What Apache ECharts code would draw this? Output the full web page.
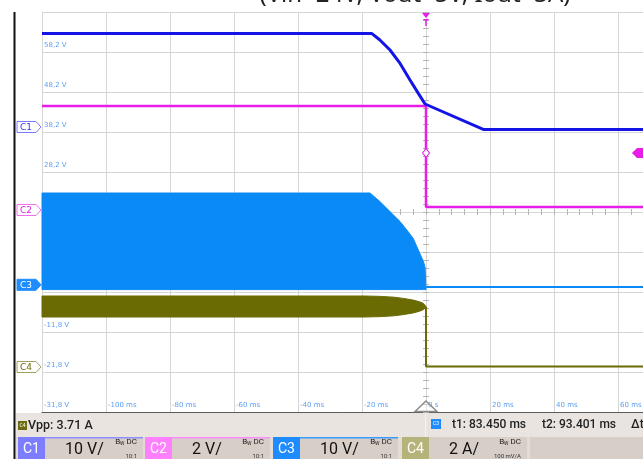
<!DOCTYPE html>
<html>
<head>
<meta charset="utf-8">
<script src="https://cdn.jsdelivr.net/npm/echarts@6/dist/echarts.min.js"></script>
<style>
html, body { margin: 0; padding: 0; background: #fff; }
#main { width: 643px; height: 459px; }
</style>
</head>
<body>
<div id="main"></div>
<script>
// time axis in ms (20 ms/div, 12 div), screen shows -120 .. ~68 ms
var xTickVals = [-120, -100, -80, -60, -40, -20, 0, 20, 40, 60, 80, 100, 120];
var xTickText = ['', '-100 ms', '-80 ms', '-60 ms', '-40 ms', '-20 ms', '0 s', '20 ms', '40 ms', '60 ms', '80 ms', '100 ms', ''];
// vertical grid in divisions (-5 .. 5)
var yTickText = ['-31,8 V', '-21,8 V', '-11,8 V', '-1,8 V', '8,2 V', '18,2 V', '28,2 V', '38,2 V', '48,2 V', '58,2 V', ''];

// C1 input voltage (V)
var tC1 = [-120, -17.0, -14.4, -11.25, -8.1, -5.0, -2.4, -0.3, 0, 17.9, 120];
var vC1 = [23.4, 23.4, 21.75, 19.25, 15.9, 11.75, 8.4, 5.75, 5.5, -0.6, -0.6];

// C2 output voltage (V)
var tC2 = [-120, 0, 0, 120];
var vC2 = [5.2, 5.2, 0.15, 0.15];
var trigLevel = 2.85;

// C3 switch node (V), envelope before shutdown + flat after
var tC3 = [-120, -17.5, -14.4, -11.25, -8.1, -6.0, -4.0, -2.4, -0.8, -0.3, 0];
var c3Top = [22.95, 22.95, 20.8, 18.3, 15.8, 13.7, 11.6, 8.7, 5.8, 4.4, -1.2];
var c3Bot = [-1.2, -1.2, -1.2, -1.2, -1.2, -1.2, -1.2, -1.2, -1.2, -1.2, -1.2];
var tC3after = [0, 120];
var vC3after = [-0.55, -0.55];

// C4 inductor current (A), ripple envelope + flat after
var tC4 = [-120, -19, -14, -10, -7, -4, -2, -0.8, 0];
var c4Top = [3.55, 3.55, 3.53, 3.49, 3.43, 3.345, 3.26, 3.18, 3.02];
var c4Bot = [2.5, 2.5, 2.52, 2.56, 2.62, 2.705, 2.79, 2.87, 2.98];
var tC4after = [0, 0, 120];
var vC4after = [3.0, 0.02, 0.02];

// channel settings: units per div, zero position in div from centre
var chScale = [10, 2, 10, 2];
var chZero = [2.125, 0.05, -1.82, -3.875];
var chColor = ['#1414e6', '#e81ee8', '#0a8af6', '#6b6b04'];

var chart = echarts.init(document.getElementById('main'));

function pts(t, v) { return t.map(function (x, i) { return [x, v[i]]; }); }

var labelColor = '#5c9ff0';
var gridColor = '#d6d6d6';
var tickColor = '#b5b5b5';

function chAxis(i) {
  return {
    type: 'value', show: false,
    min: (-5 - chZero[i]) * chScale[i],
    max: (5 - chZero[i]) * chScale[i],
    axisLine: { onZero: false }
  };
}

function centreX(inside) {
  return {
    type: 'value', min: -120, max: 120, interval: 20,
    axisLine: { show: false, onZero: true, onZeroAxisIndex: 0 },
    axisTick: { show: true, inside: inside, length: 3, lineStyle: { color: tickColor } },
    minorTick: { show: true, splitNumber: 5, length: 3, lineStyle: { color: tickColor } },
    axisLabel: { show: false },
    splitLine: { show: false }
  };
}
function centreY(inside) {
  return {
    type: 'value', min: -5, max: 5, interval: 1,
    axisLine: { show: false, onZero: true, onZeroAxisIndex: 0 },
    axisTick: { show: true, inside: inside, length: 3, lineStyle: { color: tickColor } },
    minorTick: { show: true, splitNumber: 5, length: 3, lineStyle: { color: tickColor } },
    axisLabel: { show: false },
    splitLine: { show: false }
  };
}

// filled envelope (top curve forward, bottom curve back) through the axis scales
function band(name, axis, t, top, bot, color) {
  return {
    name: name, type: 'custom', yAxisIndex: axis, silent: true,
    data: t.map(function (x, i) { return [x, top[i], bot[i]]; }),
    encode: { x: 0, y: [1, 2] },
    renderItem: function (params, api) {
      if (params.dataIndex !== 0) return null;
      var p = [];
      for (var i = 0; i < t.length; i++) p.push(api.coord([t[i], top[i]]));
      for (var j = t.length - 1; j >= 0; j--) p.push(api.coord([t[j], bot[j]]));
      return { type: 'polygon', shape: { points: p }, style: { fill: color, stroke: color, lineWidth: 1 } };
    }
  };
}

var option = {
  animation: false,
  backgroundColor: '#fff',
  grid: { left: 42, top: 12, width: 768, height: 400, outerBoundsMode: 'none', containLabel: false },
  xAxis: [
    {
      type: 'value', min: -120, max: 120, interval: 20, position: 'bottom',
      axisLine: { show: true, onZero: false, lineStyle: { color: '#5a5a5a', width: 1 } },
      axisTick: { show: false },
      axisLabel: {
        inside: true, margin: 3, align: 'left', verticalAlign: 'bottom', padding: [0, 0, 0, 2],
        fontSize: 7, fontFamily: 'DejaVu Sans', color: labelColor,
        formatter: function (v) { var k = xTickVals.indexOf(v); return k < 0 ? '' : xTickText[k]; }
      },
      splitLine: { show: true, lineStyle: { color: gridColor, width: 1 } }
    },
    centreX(true),
    centreX(false)
  ],
  yAxis: [
    {
      type: 'value', min: -5, max: 5, interval: 1, position: 'left',
      axisLine: { show: true, onZero: false, lineStyle: { color: gridColor } },
      axisTick: { show: false },
      axisLabel: {
        inside: true, margin: 2, align: 'left', verticalAlign: 'bottom', padding: [0, 0, 3, 0],
        fontSize: 7, fontFamily: 'DejaVu Sans', color: labelColor,
        formatter: function (v) { return yTickText[Math.round(v + 5)] || ''; }
      },
      splitLine: { show: true, lineStyle: { color: gridColor, width: 1 } }
    },
    chAxis(0), chAxis(1), chAxis(2), chAxis(3),
    centreY(true),
    centreY(false)
  ],
  series: [
    band('C4 ripple', 4, tC4, c4Top, c4Bot, chColor[3]),
    {
      name: 'C4', type: 'line', yAxisIndex: 4, data: pts(tC4after, vC4after),
      symbol: 'none', lineStyle: { color: chColor[3], width: 2 }
    },
    band('C3 switching', 3, tC3, c3Top, c3Bot, chColor[2]),
    {
      name: 'C3', type: 'line', yAxisIndex: 3, data: pts(tC3after, vC3after),
      symbol: 'none', lineStyle: { color: chColor[2], width: 2 }
    },
    {
      name: 'C2', type: 'line', yAxisIndex: 2, data: pts(tC2, vC2),
      symbol: 'none', lineStyle: { color: chColor[1], width: 2.5 },
      markPoint: {
        symbol: 'diamond', symbolSize: [7, 9], silent: true,
        itemStyle: { color: '#fff', borderColor: chColor[1], borderWidth: 1 },
        label: { show: false },
        data: [{ coord: [0, trigLevel] }]
      }
    },
    {
      name: 'C1', type: 'line', yAxisIndex: 1, data: pts(tC1, vC1),
      symbol: 'none', lineStyle: { color: chColor[0], width: 3 }
    }
  ]
};
chart.setOption(option);

// ---- screen decorations around the plot ----
var x0 = chart.convertToPixel({ xAxisIndex: 0 }, 0);
var zeroY = [1, 2, 3, 4].map(function (i) { return chart.convertToPixel({ yAxisIndex: i }, 0); });
var trigY = chart.convertToPixel({ yAxisIndex: 2 }, trigLevel);

function txt(text, x, y, font, fill, align) {
  return { type: 'text', z: 20, style: { text: text, x: x, y: y, font: font, fill: fill,
    align: align || 'left', textAlign: align || 'left', verticalAlign: 'middle', textVerticalAlign: 'middle' } };
}
function rect(x, y, w, h, fill) {
  return { type: 'rect', z: 15, shape: { x: x, y: y, width: w, height: h }, style: { fill: fill } };
}
function tag(y, name, stroke, fill, tcol) {
  return {
    type: 'group', z: 20, children: [
      { type: 'polygon', shape: { points: [[17, y - 5.5], [36, y - 5.5], [41, y], [36, y + 5.5], [17, y + 5.5]] },
        style: { fill: fill, stroke: stroke, lineWidth: 1 } },
      txt(name, 26, y + 0.5, '9px "DejaVu Sans"', tcol, 'center')
    ]
  };
}
function chBox(x, name, col, setting, bw, top) {
  var g = [
    rect(x, 437, 27, 22, col),
    txt(name, x + 13.5, 449, '14px Roboto', '#fff', 'center'),
    rect(x + 27, 437, 98, 22, '#d7cec8'),
    txt(setting, x + 47, 450, '16px Roboto', '#111', 'left'),
    { type: 'text', z: 20, style: { text: '{a|B}{b|W}{a| DC}', x: x + 119, y: 442, align: 'right', textAlign: 'right',
      verticalAlign: 'middle', textVerticalAlign: 'middle',
      rich: { a: { fontSize: 8, fontFamily: 'Roboto', fill: '#222' }, b: { fontSize: 5, fontFamily: 'Roboto', fill: '#222', padding: [4, 0, 0, 0] } } } },
    txt(bw, x + 119, 456, '6px Roboto', '#333', 'right')
  ];
  if (top) g.push(rect(x + 27, 437, 98, 1.5, top));
  return g;
}

var graphics = [
  txt('(Vin=24V, Vout=5V, Iout=3A)', 415, -4.5, '24px "Noto Sans"', '#222', 'center'),
  rect(0, 0, 16, 459, '#fff'),
  rect(13.5, 12, 2, 447, '#111'),
  tag(zeroY[0], 'C1', '#7a7aff', '#fff', '#3a3ae8'),
  tag(zeroY[1], 'C2', '#f070f0', '#fff', '#e020e0'),
  tag(zeroY[2], 'C3', '#1e8cff', '#1e8cff', '#fff'),
  tag(zeroY[3], 'C4', '#a0a060', '#fff', '#6b6b04'),
  // trigger markers
  { type: 'polygon', z: 20, shape: { points: [[x0 - 4, 13], [x0 + 4, 13], [x0, 18]] }, style: { fill: '#e81ee8' } },
  txt('T', x0, 24, 'bold 8px "DejaVu Sans"', '#e81ee8', 'center'),
  { type: 'polygon', z: 20, shape: { points: [[632, trigY], [637, trigY - 5], [643, trigY - 5], [643, trigY + 5], [637, trigY + 5]] }, style: { fill: '#e81ee8' } },
  { type: 'polygon', z: 20, shape: { points: [[x0 - 11, 411.5], [x0, 401], [x0 + 11, 411.5]] },
    style: { fill: 'rgba(255,255,255,0.35)', stroke: '#8c8c8c', lineWidth: 1.5 } },
  // status rows
  rect(16, 413, 627, 24, '#e9e4e0'),
  rect(16, 437, 627, 22, '#e2dbd6'),
  rect(425, 413, 1, 24, '#f6f3f1'),
  rect(18, 421, 9, 9, '#6b6b10'),
  txt('C4', 22.5, 425.5, '5px Roboto', '#fff', 'center'),
  txt('Vpp: 3.71 A', 28, 425.5, '500 12.5px Roboto', '#222', 'left'),
  rect(431, 419, 10, 10, '#1e8cff'),
  txt('C3', 436, 424, '5px Roboto', '#fff', 'center'),
  txt('t1: 83.450 ms', 452, 425, '500 12px Roboto', '#222', 'left'),
  txt('t2: 93.401 ms', 542, 425, '500 12px Roboto', '#222', 'left'),
  txt('\u0394t', 631, 425, '500 12px Roboto', '#222', 'left'),
  rect(530, 437, 113, 22, '#d7cec8')
];
graphics = graphics.concat(
  chBox(18, 'C1', '#7d7dff', '10 V/', '10:1', '#8f8fff'),
  chBox(145, 'C2', '#ff80ff', '2 V/', '10:1', '#ff8cff'),
  chBox(273, 'C3', '#1e8cff', '10 V/', '10:1', '#3a9bff'),
  chBox(402, 'C4', '#b3b37a', '2 A/', '100 mV/A', null)
);
chart.setOption({ graphic: graphics });
</script>
</body>
</html>
